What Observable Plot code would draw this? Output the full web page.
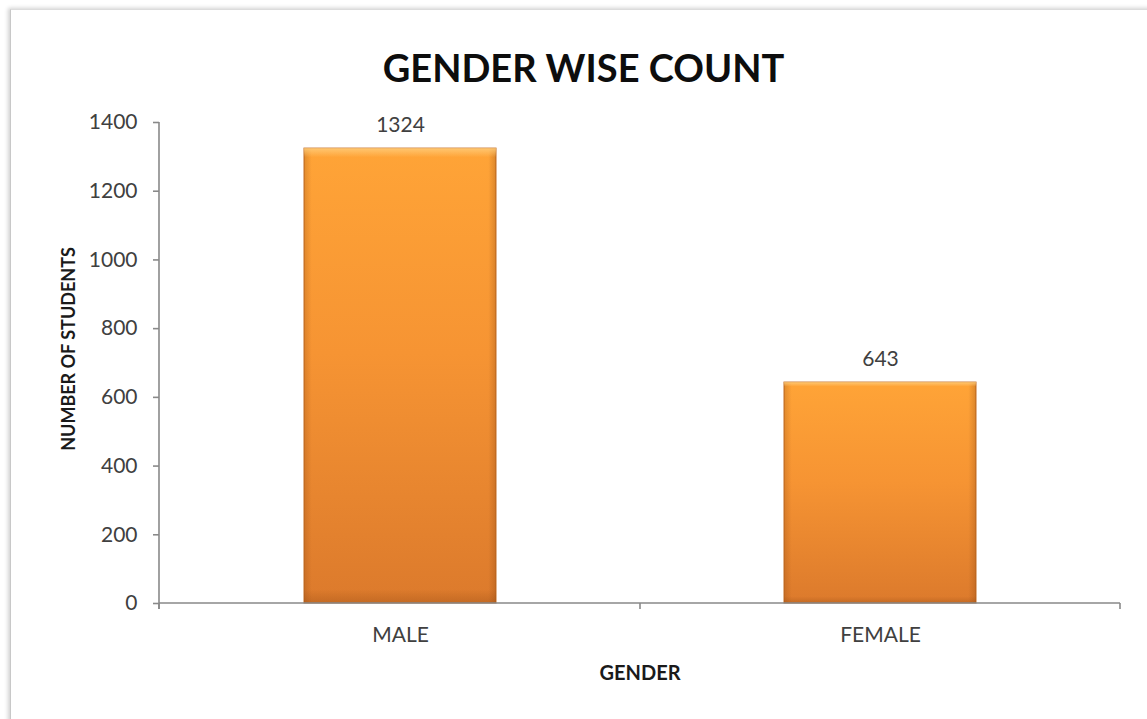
<!DOCTYPE html>
<html>
<head>
<meta charset="utf-8">
<script src="https://cdn.jsdelivr.net/npm/d3@7"></script>
<script src="https://cdn.jsdelivr.net/npm/@observablehq/plot@0.6"></script>
<style>
  html, body { margin: 0; padding: 0; background: #fff; width: 1147px; height: 719px; overflow: hidden; }
  body { font-family: Lato, "Open Sans", sans-serif; position: relative; }
  #frame { position: absolute; left: 10px; top: 9px; width: 1300px; height: 900px;
           border-left: 1px solid #c8c8c8; border-top: 1px solid #dcdcdc;
           box-shadow: -2px -1px 4px rgba(0,0,0,0.18); }
  #title { position: absolute; left: 20px; top: 0; width: 1127px; height: 100px;
           display: flex; align-items: center; justify-content: center;
           font-weight: 700; font-size: 38px; color: #0d0d0d; padding-top: 34px; box-sizing: border-box; line-height: 1; }
  #chart { position: absolute; left: 0; top: 100px; }
</style>
</head>
<body>
<div id="frame"></div>
<div id="title">GENDER WISE COUNT</div>
<div id="chart"></div>
<script>
const genders = ["MALE", "FEMALE"];
const counts = [1324, 643];
const yTicks = [0, 200, 400, 600, 800, 1000, 1200, 1400];
const yTitle = "NUMBER OF STUDENTS";
const xTitle = "GENDER";

const data = genders.map((g, i) => ({gender: g, count: counts[i]}));

function axisLines(index, scales, values, dims) {
  const x = scales.x, y = scales.y;
  const g = d3.create("svg:g").attr("stroke", "#898989").attr("stroke-width", 1.6).attr("fill", "none");
  const xl = dims.marginLeft, xr = dims.width - dims.marginRight;
  const y0 = y(0), yTop = y(d3.max(yTicks));
  g.append("line").attr("x1", xl).attr("x2", xl).attr("y1", yTop).attr("y2", y0 + 6);
  g.append("line").attr("x1", xl).attr("x2", xr).attr("y1", y0).attr("y2", y0);
  const bw = x.bandwidth ? x.bandwidth() : 0;
  const centers = genders.map(d => x(d) + bw / 2);
  const bounds = [xl];
  for (let i = 1; i < centers.length; i++) bounds.push((centers[i - 1] + centers[i]) / 2);
  bounds.push(xr);
  bounds.forEach(b => g.append("line").attr("x1", b).attr("x2", b).attr("y1", y0).attr("y2", y0 + 6));
  return g.node();
}

const plot = Plot.plot({
  width: 1147,
  height: 619,
  marginTop: 22,
  marginBottom: 116,
  marginLeft: 159,
  marginRight: 27,
  style: {fontFamily: "Lato, 'Open Sans', sans-serif", fontSize: "21px", color: "#404040", background: "transparent"},
  x: {domain: genders, paddingInner: 0.6, paddingOuter: 0.3, axis: null},
  y: {domain: [0, 1400], axis: null},
  marks: [
    Plot.barY(data, {x: "gender", y: "count", fill: "url(#barGrad)", stroke: "#c46c22", strokeWidth: 1}),
    Plot.barY(data, {x: "gender", y: "count", fill: "url(#edgeGrad)"}),
    Plot.barY(data, {x: "gender", y: "count", fill: "url(#capGrad)"}),
    axisLines,
    Plot.axisY({ticks: yTicks, tickFormat: d => String(d), tickSize: 6, tickPadding: 16, label: null, stroke: "#898989", strokeWidth: 1.6, fill: "#404040"}),
    Plot.axisX({tickSize: 0, tickPadding: 24, label: null, fill: "#404040", fontSize: 21}),
    Plot.text(data, {x: "gender", y: "count", text: d => String(d.count), dy: -23, lineAnchor: "middle", fill: "#404040", fontSize: 21}),
    Plot.text([yTitle], {frameAnchor: "left", rotate: -90, dx: -90, dy: -14, textAnchor: "middle", lineAnchor: "middle", fontWeight: "bold", fontSize: 18, fill: "#1a1a1a"}),
    Plot.text([xTitle], {frameAnchor: "bottom", dy: 70, lineAnchor: "middle", fontWeight: "bold", fontSize: 20, fill: "#1a1a1a"})
  ]
});

const svg = d3.select(plot);
const defs = svg.insert("defs", ":first-child");
const bg = defs.append("linearGradient").attr("id", "barGrad").attr("x1", 0).attr("y1", 0).attr("x2", 0).attr("y2", 1);
bg.append("stop").attr("offset", "0%").attr("stop-color", "#ffa437");
bg.append("stop").attr("offset", "45%").attr("stop-color", "#f69433");
bg.append("stop").attr("offset", "100%").attr("stop-color", "#dc7a2c");
const eg = defs.append("linearGradient").attr("id", "edgeGrad").attr("x1", 0).attr("y1", 0).attr("x2", 1).attr("y2", 0);
eg.append("stop").attr("offset", "0%").attr("stop-color", "#8a4410").attr("stop-opacity", 0.25);
eg.append("stop").attr("offset", "4%").attr("stop-color", "#8a4410").attr("stop-opacity", 0);
eg.append("stop").attr("offset", "96%").attr("stop-color", "#8a4410").attr("stop-opacity", 0);
eg.append("stop").attr("offset", "100%").attr("stop-color", "#8a4410").attr("stop-opacity", 0.3);
const cg = defs.append("linearGradient").attr("id", "capGrad").attr("x1", 0).attr("y1", 0).attr("x2", 0).attr("y2", 1).attr("gradientUnits", "objectBoundingBox");
cg.append("stop").attr("offset", "0%").attr("stop-color", "#ffd080").attr("stop-opacity", 0.8);
cg.append("stop").attr("offset", "2%").attr("stop-color", "#ffd080").attr("stop-opacity", 0);
cg.append("stop").attr("offset", "97%").attr("stop-color", "#8a4410").attr("stop-opacity", 0);
cg.append("stop").attr("offset", "100%").attr("stop-color", "#8a4410").attr("stop-opacity", 0.3);

document.getElementById("chart").appendChild(plot);
</script>
</body>
</html>
